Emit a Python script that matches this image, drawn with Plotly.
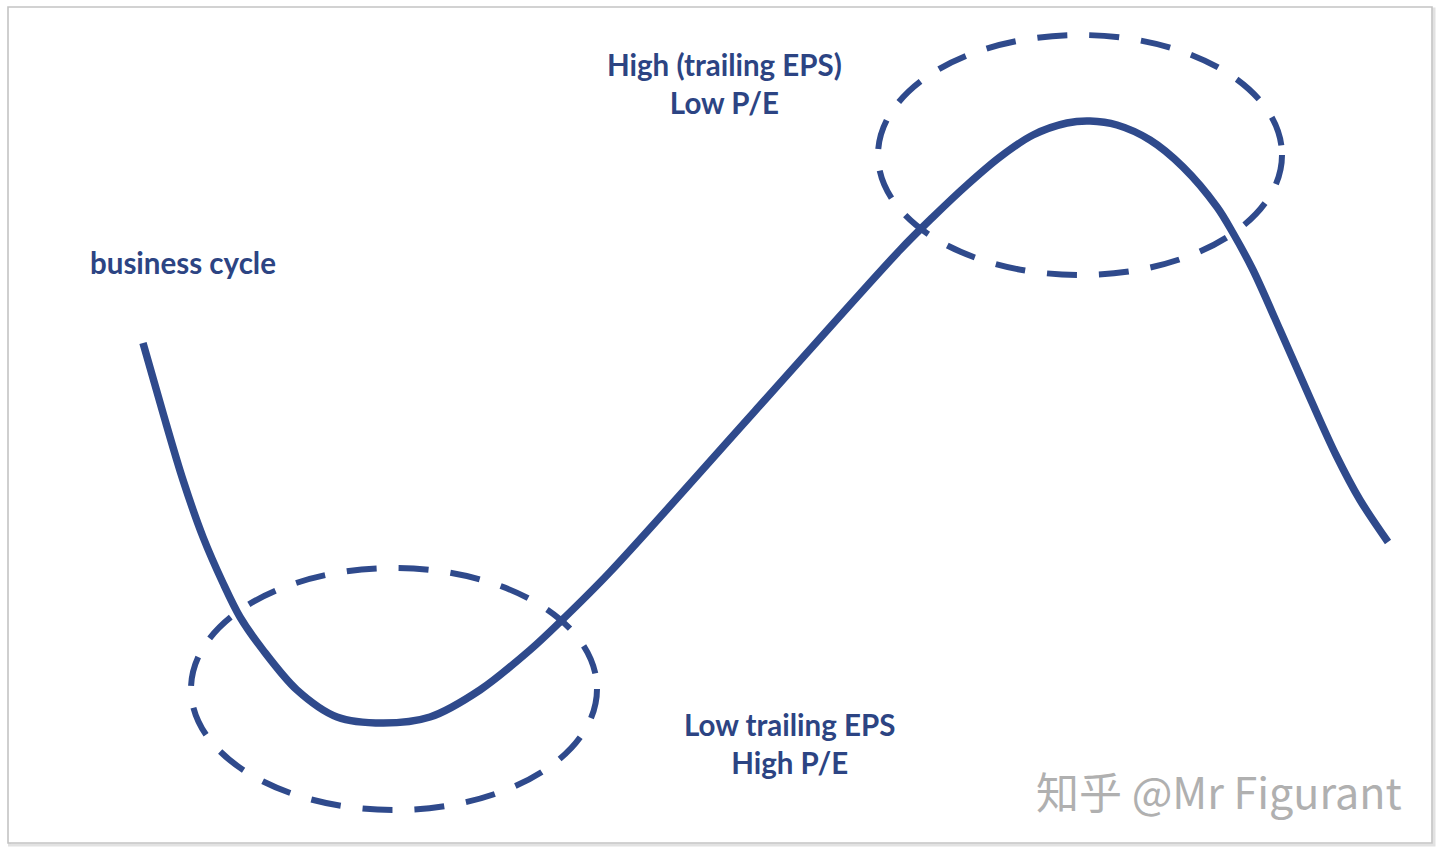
import plotly.graph_objects as go

# ---- data (time on x, level on y; y measured upward) ----
W, H = 1440, 853
cycle_time = [143, 163, 183, 203, 223, 240, 263, 297, 337, 383, 430, 480, 530, 560, 610,
              755, 900, 933, 967, 1000, 1033, 1067, 1090, 1117, 1150, 1183, 1217, 1233,
              1253, 1280, 1310, 1336, 1360, 1388]
cycle_depth = [343, 413, 480, 537, 583, 617, 650, 690, 717, 723, 717, 690, 650, 622, 572,
               411, 250, 217, 185, 157, 135, 123, 121, 125, 140, 167, 207, 233,
               270, 330, 398, 455, 500, 542]
cycle_level = [H - d for d in cycle_depth]

# ellipses: centre time, centre depth, half-width, half-height
ell_cx = [394, 1080]
ell_cy = [689, 155]
ell_rx = [203, 202]
ell_ry = [121, 120]

label_text = ["business cycle",
              "High (trailing EPS)<br>Low P/E",
              "Low trailing EPS<br>High P/E"]
label_x = [88, 724, 789]
label_depth = [262, 83, 743]
label_anchor = ["left", "center", "center"]

NAVY = "#2f4a8c"
TEXT = "#2c4483"

fig = go.Figure()
fig.add_trace(go.Scatter(
    x=cycle_time, y=cycle_level, mode="lines",
    line=dict(color=NAVY, width=7.5, shape="spline", smoothing=0.9),
    hoverinfo="skip", showlegend=False))

shapes = []
# frame shadow + frame
shapes.append(dict(type="rect", xref="paper", yref="paper",
                   x0=9.5 / W, x1=1434 / W, y0=1 - 845 / H, y1=1 - 9 / H,
                   line=dict(color="#e2e2e2", width=3), fillcolor="rgba(0,0,0,0)", layer="below"))
shapes.append(dict(type="rect", xref="paper", yref="paper",
                   x0=8 / W, x1=1432 / W, y0=1 - 843 / H, y1=1 - 7 / H,
                   line=dict(color="#c4c4c4", width=1.6), fillcolor="white", layer="below"))
for cx, cy, rx, ry in zip(ell_cx, ell_cy, ell_rx, ell_ry):
    shapes.append(dict(type="circle", xref="x", yref="y",
                       x0=cx - rx, x1=cx + rx, y0=H - cy - ry, y1=H - cy + ry,
                       line=dict(color=NAVY, width=6, dash="30px,22px"),
                       fillcolor="rgba(0,0,0,0)", layer="above"))

annotations = []
for t, x, d, a in zip(label_text, label_x, label_depth, label_anchor):
    annotations.append(dict(text=t, x=x, y=H - d, xref="x", yref="y",
                            xanchor=a, yanchor="middle", showarrow=False, align="center",
                            font=dict(family="Lato", size=29.5, color=TEXT, weight="bold")))
annotations.append(dict(text="知乎 @Mr Figurant", x=1404, y=H - 790, xref="x", yref="y",
                        xanchor="right", yanchor="middle", showarrow=False,
                        font=dict(family="Noto Sans CJK SC", size=43, color="#b0b0b0",
                                  shadow="1px 1px 1px #ffffff")))

fig.update_layout(
    width=W, height=H, margin=dict(l=0, r=0, t=0, b=0),
    paper_bgcolor="white", plot_bgcolor="rgba(0,0,0,0)",
    xaxis=dict(range=[0, W], visible=False, fixedrange=True),
    yaxis=dict(range=[0, H], visible=False, fixedrange=True),
    shapes=shapes, annotations=annotations, showlegend=False)

fig.write_html("out.html", config={"displayModeBar": False},
               post_script="document.body.style.margin='0';document.body.style.overflow='hidden';")
